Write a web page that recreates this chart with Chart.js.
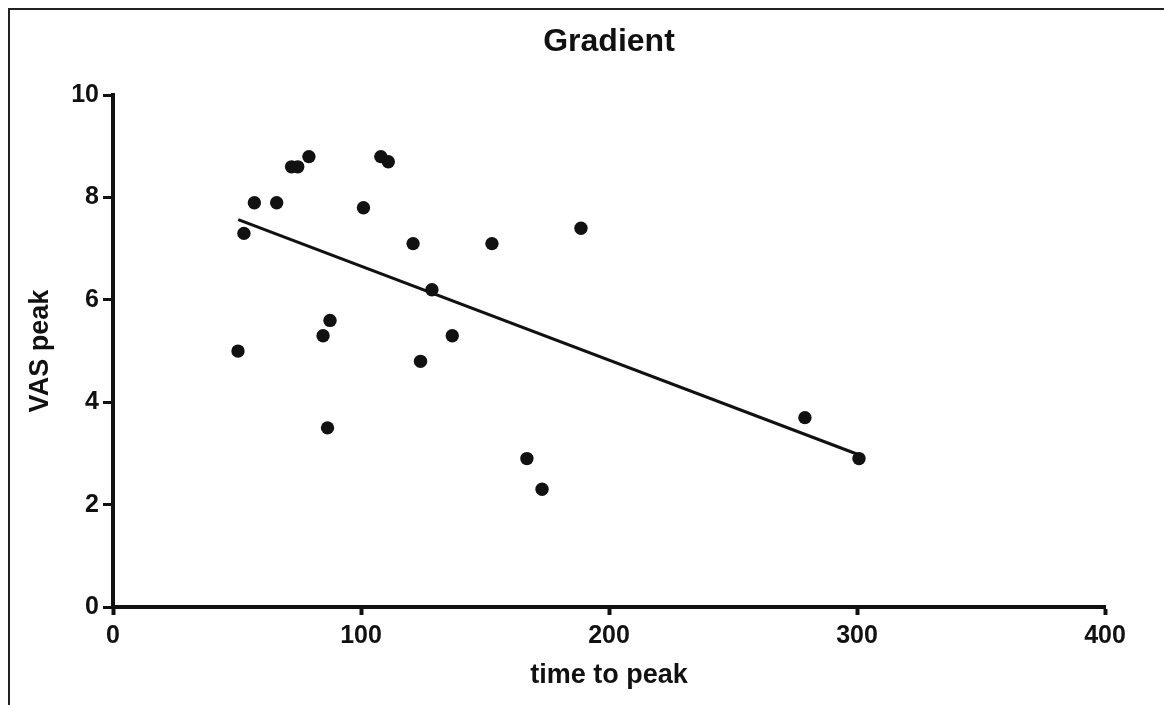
<!DOCTYPE html>
<html>
<head>
<meta charset="utf-8">
<script src="https://cdn.jsdelivr.net/npm/chart.js@4/dist/chart.umd.min.js"></script>
<style>
  html, body { margin: 0; padding: 0; background: #fff; }
  #wrap { position: relative; width: 1164px; height: 705px; overflow: hidden; }
  #frame { position: absolute; left: 8px; top: 8px; width: 1170px; height: 720px;
           border-top: 2px solid #222; border-left: 2px solid #222; box-sizing: border-box; }
  canvas { position: absolute; left: 0; top: 0; }
</style>
</head>
<body>
<div id="wrap">
  <div id="frame"></div>
  <canvas id="c" width="1164" height="705"></canvas>
</div>
<script>
// Data
const timeToPeak = [50.4, 52.8, 57, 66, 72, 74.5, 79, 84.7, 87.5, 86.5, 101, 108, 111, 121, 124, 128.6, 136.8, 152.8, 166.9, 173, 188.7, 279, 300.8];
const vasPeak    = [5.0, 7.3, 7.9, 7.9, 8.6, 8.6, 8.8, 5.3, 5.6, 3.5, 7.8, 8.8, 8.7, 7.1, 4.8, 6.2, 5.3, 7.1, 2.9, 2.3, 7.4, 3.7, 2.9];
const fitX = [50.5, 301];
const fitY = [7.57, 2.97];
const chartTitle = "Gradient";
const xTitle = "time to peak";
const yTitle = "VAS peak";
const xRange = [0, 400];
const yRange = [0, 10];

const FONT = "'Liberation Sans', Arial, Helvetica, sans-serif";

const points = timeToPeak.map((x, i) => ({ x: x, y: vasPeak[i] }));
const fitLine = fitX.map((x, i) => ({ x: x, y: fitY[i] }));

new Chart(document.getElementById('c'), {
  type: 'scatter',
  data: {
    datasets: [
      {
        label: 'data',
        data: points,
        backgroundColor: '#111',
        borderColor: '#111',
        borderWidth: 0,
        pointRadius: 6.7,
        pointHoverRadius: 6.7
      },
      {
        type: 'line',
        label: 'fit',
        data: fitLine,
        borderColor: '#111',
        borderWidth: 3,
        pointRadius: 0,
        fill: false,
        showLine: true
      }
    ]
  },
  options: {
    responsive: false,
    animation: false,
    devicePixelRatio: 1,
    layout: { padding: { top: 6, right: 59, bottom: 0, left: 0 } },
    plugins: {
      legend: { display: false },
      tooltip: { enabled: false },
      title: {
        display: true,
        fullSize: false,
        text: chartTitle,
        color: '#111',
        font: { family: FONT, size: 32, weight: 'bold' },
        padding: { top: 17, bottom: 33.8 }
      }
    },
    scales: {
      x: {
        type: 'linear',
        min: xRange[0],
        max: xRange[1],
        ticks: {
          stepSize: 100,
          color: '#111',
          padding: 6,
          font: { family: FONT, size: 25, weight: 'bold' }
        },
        grid: {
          display: true,
          drawOnChartArea: false,
          drawTicks: true,
          tickLength: 8,
          tickWidth: 4,
          tickColor: '#111',
          color: '#111'
        },
        border: { display: true, color: '#111', width: 4 },
        title: {
          display: true,
          text: xTitle,
          color: '#111',
          font: { family: FONT, size: 27, weight: 'bold' },
          padding: { top: 0, bottom: 13 }
        },
        afterFit: (s) => { s.height = 98; }
      },
      y: {
        type: 'linear',
        min: yRange[0],
        max: yRange[1],
        ticks: {
          stepSize: 2,
          color: '#111',
          padding: 4,
          font: { family: FONT, size: 25, weight: 'bold' }
        },
        grid: {
          display: true,
          drawOnChartArea: false,
          drawTicks: true,
          tickLength: 10,
          tickWidth: 3,
          tickColor: '#111',
          color: '#111'
        },
        border: { display: true, color: '#111', width: 4 },
        title: {
          display: true,
          text: yTitle,
          color: '#111',
          font: { family: FONT, size: 27, weight: 'bold' },
          padding: { top: 24, bottom: 0 }
        },
        afterFit: (s) => { s.width = 113; }
      }
    }
  }
});
</script>
</body>
</html>
